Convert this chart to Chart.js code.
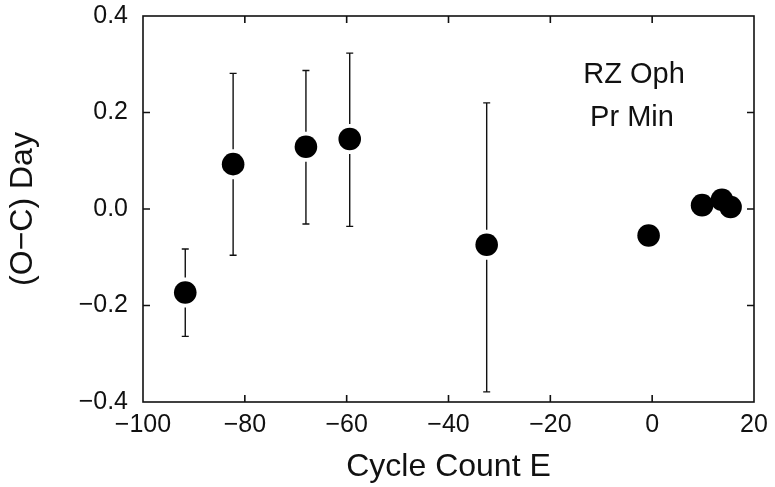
<!DOCTYPE html>
<html>
<head>
<meta charset="utf-8">
<script src="https://cdn.jsdelivr.net/npm/chart.js@4/dist/chart.umd.min.js"></script>
<style>
  html, body { margin: 0; padding: 0; background: #fff; }
</style>
</head>
<body>
<canvas id="chart" width="775" height="487"></canvas>
<script>
// values: cycle count E and (O-C) in days
const cycleE  = [-91.7, -82.3, -68.0, -59.4, -32.5, -0.7, 9.8, 13.7, 15.4];
const oMinusC = [-0.173, 0.093, 0.129, 0.145, -0.074, -0.055, 0.008, 0.019, 0.004];
// error bar ends (null = no bar)
const errHigh = [-0.083, 0.281, 0.287, 0.323, 0.220, null, null, null, null];
const errLow  = [-0.264, -0.096, -0.031, -0.036, -0.379, null, null, null, null];

const xTitle = 'Cycle Count E';
const yTitle = '(O\u2212C) Day';
const labelLines = ['RZ Oph', 'Pr Min'];

const INK = '#111';
const FONT = '"Liberation Sans", Arial, sans-serif';
const TICK = 7;
const CAP = 3.5;
const GAP = 15;

function minus(s) { return s.replace('-', '\u2212'); }

const framePlugin = {
  id: 'framePlugin',
  beforeDatasetsDraw(chart) {
    const { ctx, chartArea: a, scales: { x, y } } = chart;
    ctx.save();
    ctx.strokeStyle = INK;
    ctx.lineWidth = 1.6;
    ctx.strokeRect(a.left, a.top, a.right - a.left, a.bottom - a.top);

    // inward ticks on all four sides
    ctx.beginPath();
    x.ticks.forEach(t => {
      if (t.value <= x.min || t.value >= x.max) return;
      const px = x.getPixelForValue(t.value);
      ctx.moveTo(px, a.bottom); ctx.lineTo(px, a.bottom - TICK);
      ctx.moveTo(px, a.top); ctx.lineTo(px, a.top + TICK);
    });
    y.ticks.forEach(t => {
      if (t.value <= y.min + 1e-9 || t.value >= y.max - 1e-9) return;
      const py = y.getPixelForValue(t.value);
      ctx.moveTo(a.left, py); ctx.lineTo(a.left + TICK, py);
      ctx.moveTo(a.right, py); ctx.lineTo(a.right - TICK, py);
    });
    ctx.stroke();

    // error bars, broken around the marker
    ctx.lineWidth = 1.4;
    cycleE.forEach((e, i) => {
      if (errHigh[i] == null) return;
      const px = x.getPixelForValue(e);
      const py = y.getPixelForValue(oMinusC[i]);
      const top = y.getPixelForValue(errHigh[i]);
      const bot = y.getPixelForValue(errLow[i]);
      ctx.beginPath();
      ctx.moveTo(px, top); ctx.lineTo(px, py - GAP);
      ctx.moveTo(px, py + GAP); ctx.lineTo(px, bot);
      ctx.moveTo(px - CAP, top); ctx.lineTo(px + CAP, top);
      ctx.moveTo(px - CAP, bot); ctx.lineTo(px + CAP, bot);
      ctx.stroke();
    });
    ctx.restore();
  },
  afterDraw(chart) {
    const { ctx } = chart;
    ctx.save();
    ctx.fillStyle = INK;
    ctx.font = '29px ' + FONT;
    ctx.textAlign = 'center';
    ctx.textBaseline = 'middle';
    ctx.fillText(labelLines[0], 634, 74.5);
    ctx.fillText(labelLines[1], 632, 117.5);
    ctx.restore();
  }
};

const ctx = document.getElementById('chart');
new Chart(ctx, {
  type: 'scatter',
  data: {
    datasets: [{
      data: cycleE.map((e, i) => ({ x: e, y: oMinusC[i] })),
      pointRadius: 11.3,
      pointHoverRadius: 11.3,
      backgroundColor: '#000',
      borderWidth: 0
    }]
  },
  options: {
    responsive: false,
    animation: false,
    events: [],
    layout: { padding: { top: 16, right: 21, left: 0, bottom: 0 } },
    plugins: { legend: { display: false }, tooltip: { enabled: false } },
    scales: {
      x: {
        type: 'linear',
        min: -100, max: 20,
        grid: { display: false, drawTicks: false },
        border: { display: false },
        ticks: {
          stepSize: 20, autoSkip: false, padding: 8,
          color: INK, font: { family: FONT, size: 25 },
          callback: v => minus(String(v))
        },
        title: {
          display: true, text: xTitle, color: INK,
          font: { family: FONT, size: 32 },
          padding: { top: 0, bottom: 1 }
        },
        afterFit: s => { s.height = 85; s.paddingLeft = 0; s.paddingRight = 0; }
      },
      y: {
        type: 'linear',
        min: -0.4, max: 0.4,
        grid: { display: false, drawTicks: false },
        border: { display: false },
        ticks: {
          stepSize: 0.2, autoSkip: false, padding: 15,
          color: INK, font: { family: FONT, size: 25 },
          callback: v => minus((Math.round(v * 10) / 10).toFixed(1))
        },
        title: {
          display: true, text: yTitle, color: INK,
          font: { family: FONT, size: 32 },
          padding: { top: 4, bottom: 0 }
        },
        afterFit: s => { s.width = 143; s.paddingTop = 0; s.paddingBottom = 0; }
      }
    }
  },
  plugins: [framePlugin]
});
</script>
</body>
</html>
